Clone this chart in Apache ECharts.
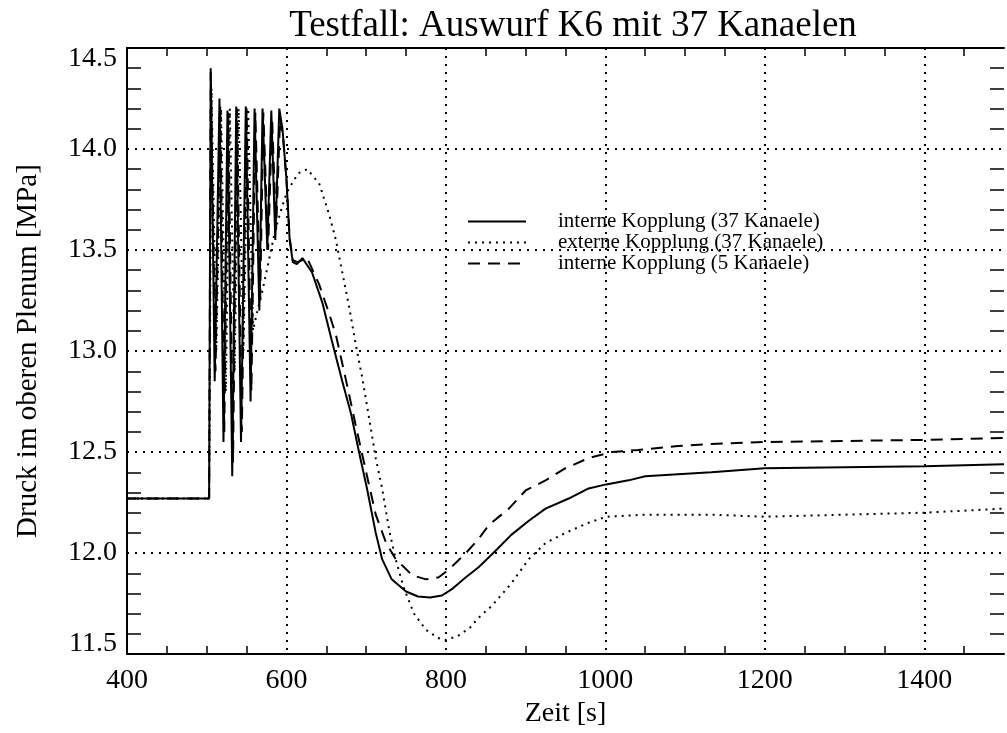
<!DOCTYPE html>
<html>
<head>
<meta charset="utf-8">
<script src="https://cdn.jsdelivr.net/npm/echarts@6/dist/echarts.min.js"></script>
<style>
html,body{margin:0;padding:0;background:#fff;}
#chart{width:1007px;height:733px;}
</style>
</head>
<body>
<div id="chart"></div>
<script>
const titleText = 'Testfall: Auswurf K6 mit 37 Kanaelen';
const xName = 'Zeit [s]';
const yName = 'Druck im oberen Plenum [MPa]';
const seriesNames = ['interne Kopplung (37 Kanaele)', 'externe Kopplung (37 Kanaele)', 'interne Kopplung (5 Kanaele)'];
const xTicks = [400, 600, 800, 1000, 1200, 1400];
const yTicks = [11.5, 12.0, 12.5, 13.0, 13.5, 14.0, 14.5];

// interne Kopplung (37 Kanaele)
const int37_t = [400,503,505,510,516,521,526,532,537,543,549,555,560,566,570,576,581,586,591,595,600,604,608,613,620,632,645,657,670,681,691,701,712,720,732,750,765,780,795,807,825,841,862,882,904,925,954,979,1001,1029,1050,1091,1133,1200,1300,1400,1500];
const int37_p = [12.27,12.27,14.40,12.85,14.25,12.55,14.19,12.38,14.21,12.55,14.21,12.75,14.20,13.20,14.20,13.50,14.19,13.55,14.20,14.10,13.85,13.55,13.44,13.43,13.46,13.39,13.24,13.05,12.85,12.69,12.50,12.32,12.10,11.97,11.87,11.81,11.785,11.78,11.79,11.82,11.88,11.93,12.01,12.09,12.16,12.22,12.27,12.32,12.34,12.36,12.38,12.39,12.40,12.42,12.425,12.43,12.44];

// externe Kopplung (37 Kanaele)
const ext37_t = [400,503,506,512,518,524,529,535,540,546,552,558,563,570,578,586,595,600,607,615,626,641,654,662,670,679,687,695,704,712,720,729,737,747,760,775,790,800,815,830,841,858,882,904,925,950,979,1001,1050,1133,1200,1300,1400,1500];
const ext37_p = [12.27,12.27,14.30,13.00,14.20,12.80,14.20,12.90,14.20,13.00,14.20,13.10,13.19,13.30,13.45,13.60,13.72,13.78,13.83,13.88,13.90,13.83,13.67,13.55,13.39,13.21,13.03,12.87,12.66,12.47,12.32,12.11,11.97,11.83,11.70,11.62,11.58,11.57,11.59,11.63,11.68,11.74,11.85,11.97,12.05,12.10,12.15,12.18,12.19,12.19,12.18,12.19,12.20,12.22];

// interne Kopplung (5 Kanaele)
const int5_t = [400,503,505,511,517,522,527,533,538,544,550,556,561,567,571,577,582,587,592,596,600,604,608,614,626,641,654,662,675,687,700,712,725,737,758,775,791,804,825,841,854,879,900,925,950,979,1008,1041,1091,1133,1200,1400,1500];
const int5_p = [12.27,12.27,14.38,12.90,14.22,12.60,14.18,12.45,14.20,12.60,14.20,12.80,14.18,13.25,14.18,13.50,14.15,13.60,14.15,14.05,13.85,13.56,13.45,13.44,13.46,13.33,13.18,13.08,12.85,12.63,12.40,12.19,12.05,11.97,11.89,11.87,11.88,11.92,12.00,12.07,12.14,12.22,12.31,12.36,12.42,12.47,12.50,12.51,12.53,12.54,12.55,12.56,12.57];

function pairs(t, p) { return t.map((v, i) => [v, p[i]]); }

const serif = 'Liberation Serif';
const chart = echarts.init(document.getElementById('chart'));

const baseX = {
  type: 'value', min: 400, max: 1500, interval: 200,
  axisLine: { show: true, onZero: false, lineStyle: { color: '#000', width: 2 } },
  axisTick: { show: false, inside: true },
  minorTick: { show: true, splitNumber: 4, length: 8, lineStyle: { color: '#000', width: 1.5 } },
  splitLine: { show: false },
  axisLabel: { show: false }
};
const baseY = {
  type: 'value', min: 11.5, max: 14.5, interval: 0.5,
  axisLine: { show: true, onZero: false, lineStyle: { color: '#000', width: 2 } },
  axisTick: { show: false, inside: true },
  minorTick: { show: true, splitNumber: 5, length: 14, lineStyle: { color: '#000', width: 1.5 } },
  splitLine: { show: false },
  axisLabel: { show: false }
};

const option = {
  backgroundColor: '#fff',
  animation: false,
  title: {
    text: titleText, left: 568, top: 3, textAlign: 'center',
    textStyle: { fontFamily: serif, fontSize: 37, fontWeight: 'normal', color: '#000' }
  },
  legend: {
    orient: 'vertical', left: 462, top: 206, itemWidth: 58, itemHeight: 14, itemGap: 0,
    data: seriesNames,
    itemStyle: { opacity: 0 },
    textStyle: { fontFamily: serif, fontSize: 21, lineHeight: 20, color: '#000', padding: [0, 0, 0, 27] }
  },
  grid: { left: 127, right: 0, top: 48, bottom: 67, containLabel: false },
  xAxis: [
    Object.assign({}, baseX, {
      position: 'bottom',
      name: xName, nameLocation: 'middle', nameGap: 40,
      nameTextStyle: { fontFamily: serif, fontSize: 28, color: '#000' },
      axisLabel: { show: true, margin: 13, fontFamily: serif, fontSize: 28, color: '#000',
        formatter: v => (xTicks.indexOf(v) >= 0 ? String(v) : '') },
      splitLine: { show: true, showMaxLine: false, lineStyle: { color: '#000', type: [2, 6], width: 2 } }
    }),
    Object.assign({}, baseX, { position: 'top' })
  ],
  yAxis: [
    Object.assign({}, baseY, {
      position: 'left',
      name: yName, nameLocation: 'middle', nameGap: 84,
      nameTextStyle: { fontFamily: serif, fontSize: 29, color: '#000' },
      axisLabel: { show: true, margin: 10, fontFamily: serif, fontSize: 28, color: '#000',
        formatter: v => {
          const s = v.toFixed(1);
          if (v === yTicks[0]) return '{lo|' + s + '}';
          if (v === yTicks[yTicks.length - 1]) return '{hi|' + s + '}';
          return s;
        },
        rich: {
          lo: { fontFamily: serif, fontSize: 28, color: '#000', padding: [0, 0, 20, 0] },
          hi: { fontFamily: serif, fontSize: 28, color: '#000', padding: [22, 0, 0, 0] }
        }
      },
      splitLine: { show: true, lineStyle: { color: '#000', type: [2, 6], width: 2 } }
    }),
    Object.assign({}, baseY, { position: 'right', axisLine: { show: false } })
  ],
  series: [
    {
      name: seriesNames[0], type: 'line', symbol: 'none', data: pairs(int37_t, int37_p),
      lineStyle: { color: '#000', width: 2, type: 'solid' }, itemStyle: { color: '#000' }, z: 5
    },
    {
      name: seriesNames[1], type: 'line', symbol: 'none', data: pairs(ext37_t, ext37_p),
      lineStyle: { color: '#000', width: 2, type: [2, 5] }, itemStyle: { color: '#000' }, z: 4
    },
    {
      name: seriesNames[2], type: 'line', symbol: 'none', data: pairs(int5_t, int5_p),
      lineStyle: { color: '#000', width: 2, type: [12, 8] }, itemStyle: { color: '#000' }, z: 3
    }
  ]
};
chart.setOption(option);
</script>
</body>
</html>
